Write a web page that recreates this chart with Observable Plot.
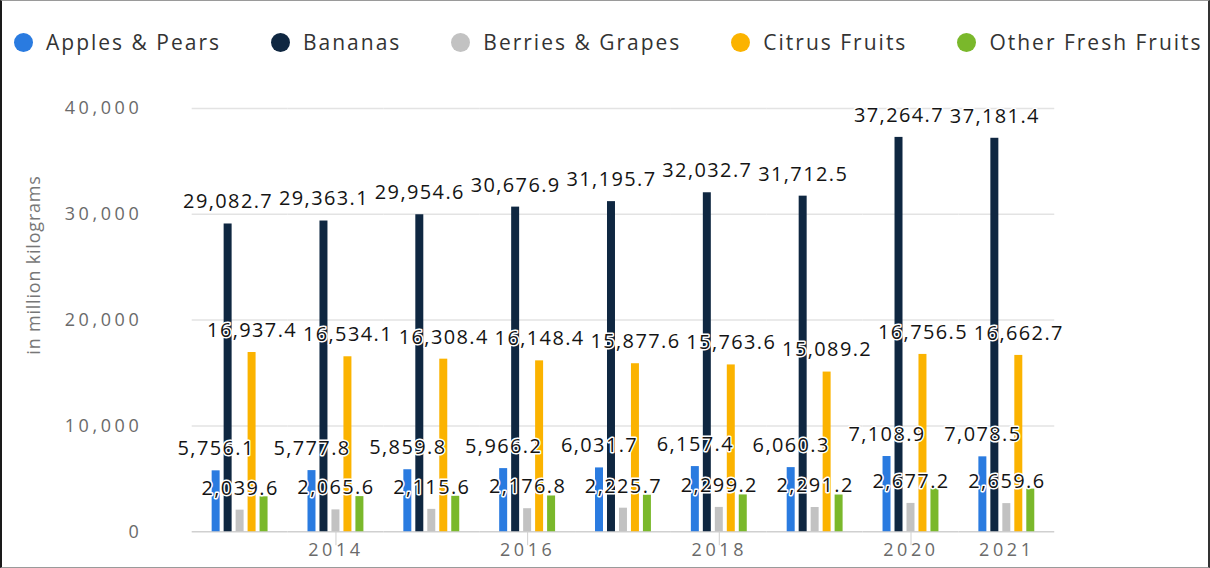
<!DOCTYPE html>
<html>
<head>
<meta charset="utf-8">
<script src="https://cdn.jsdelivr.net/npm/d3@7"></script>
<script src="https://cdn.jsdelivr.net/npm/@observablehq/plot@0.6"></script>
<style>
  html, body { margin: 0; padding: 0; background: #fff; }
  #wrap { position: relative; width: 1210px; height: 568px; box-sizing: border-box;
          border-top: 1px solid #9a9a9a; border-left: 2px solid #1a1a1a; border-right: 2px solid #333; border-bottom: 1px solid #9a9a9a;
          overflow: hidden; font-family: "Open Sans", sans-serif; }
  #legend { position: absolute; left: 12px; top: 0; height: 80px; display: flex; align-items: center; gap: 50px; margin-top: 1px; white-space: nowrap; width: 1240px; }
  .item { display: flex; align-items: center; flex-shrink: 0; font-size: 21px; letter-spacing: 2px; color: #333; white-space: nowrap; }
  .dot { width: 19px; height: 19px; border-radius: 50%; margin-right: 13px; flex-shrink: 0; }
  #ylabel { position: absolute; left: 31px; top: 264px; transform: translate(-50%, -50%) rotate(-90deg);
            white-space: nowrap; font-size: 18px; color: #777; letter-spacing: 0.8px; }
  #chart { position: absolute; left: -2px; top: 79px; }
  #chart g[aria-label="text"] text { letter-spacing: 1.4px; }
  #chart g[aria-label="y-axis tick label"] text, #chart g[aria-label="fx-axis tick label"] text { letter-spacing: 3.6px; }
</style>
</head>
<body>
<div id="wrap">
  <div id="legend"></div>
  <div id="chart"></div>
  <div id="ylabel"></div>
</div>
<script>
const years = ["2013","2014","2015","2016","2017","2018","2019","2020","2021"];
const fruits = ["Apples & Pears","Bananas","Berries & Grapes","Citrus Fruits","Other Fresh Fruits"];
const colors = ["#2a7be0","#0f2741","#c2c2c2","#fbb300","#7ab82b"];
const apples  = [5756.1, 5777.8, 5859.8, 5966.2, 6031.7, 6157.4, 6060.3, 7108.9, 7078.5];
const bananas = [29082.7, 29363.1, 29954.6, 30676.9, 31195.7, 32032.7, 31712.5, 37264.7, 37181.4];
const berries = [2039.6, 2065.6, 2115.6, 2176.8, 2225.7, 2299.2, 2291.2, 2677.2, 2659.6];
const citrus  = [16937.4, 16534.1, 16308.4, 16148.4, 15877.6, 15763.6, 15089.2, 16756.5, 16662.7];
const other   = [3300, 3320, 3350, 3380, 3450, 3480, 3470, 4050, 4030];
const labeledFruits = ["Apples & Pears","Bananas","Berries & Grapes","Citrus Fruits"];
const xTickYears = ["2014","2016","2018","2020","2021"];
const xTickMarks = ["2014","2016","2018","2020"];
const yTicks = [0, 10000, 20000, 30000, 40000];
const yLabel = "in million kilograms";

const series = [apples, bananas, berries, citrus, other];
const data = [];
years.forEach((yr, i) => fruits.forEach((f, j) => data.push({year: yr, fruit: f, value: series[j][i]})));

// legend
const legend = document.getElementById("legend");
fruits.forEach((f, j) => {
  const it = document.createElement("div");
  it.className = "item";
  const d = document.createElement("span");
  d.className = "dot"; d.style.background = colors[j];
  it.appendChild(d);
  it.appendChild(document.createTextNode(f));
  legend.appendChild(it);
});
document.getElementById("ylabel").textContent = yLabel;

const fmt = d3.format(",.1f");

const chart = Plot.plot({
  width: 1210,
  height: 488,
  marginLeft: 188,
  marginRight: 150,
  marginTop: 28,
  marginBottom: 36,
  style: {fontFamily: "Open Sans, sans-serif", background: "transparent"},
  fx: {domain: years, paddingInner: 0, paddingOuter: 0, axis: null, label: null},
  x: {domain: fruits, paddingInner: 0.3, paddingOuter: 1.4, axis: null},
  y: {domain: [0, 40000], axis: null},
  color: {domain: fruits, range: colors},
  marks: [
    Plot.ruleY(yTicks.slice(1), {stroke: "#e3e3e3", strokeWidth: 1.5}),
    Plot.ruleY([0], {stroke: "#d0d0d0", strokeWidth: 1.5}),
    Plot.barY(data, {fx: "year", x: "fruit", y: "value", fill: "fruit"}),
    Plot.text(data.filter(d => labeledFruits.includes(d.fruit)), {
      fx: "year", x: "fruit", y: "value", text: d => fmt(d.value),
      dy: -22, fontSize: 20, fill: "#141414", stroke: "white", strokeWidth: 3, fontWeight: 500
    }),
    Plot.axisY({ticks: yTicks, anchor: "left", tickSize: 0, tickPadding: 50, tickFormat: d3.format(","),
      fontSize: 18, fill: "#6a6a6a", label: null}),
    Plot.axisFx({ticks: xTickMarks, anchor: "bottom", tickSize: 14, text: null, stroke: "#cfcfcf", label: null}),
    Plot.axisFx({ticks: xTickYears, anchor: "bottom", tickSize: 0, tickPadding: 12, fontSize: 18, fill: "#6a6a6a", label: null})
  ]
});
document.getElementById("chart").appendChild(chart);
</script>
</body>
</html>
